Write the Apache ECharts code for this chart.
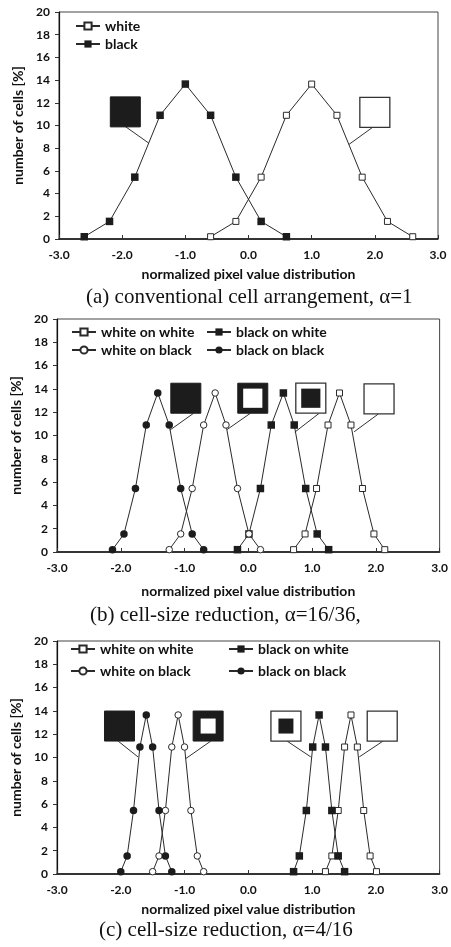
<!DOCTYPE html>
<html>
<head>
<meta charset="utf-8">
<script src="https://cdn.jsdelivr.net/npm/echarts@6/dist/echarts.min.js"></script>
<style>
  html, body { margin: 0; padding: 0; background: #fff; }
  #chart { width: 451px; height: 947px; }
</style>
</head>
<body>
<div id="chart"></div>
<script>
// Share of cells (%) falling in each of the nine histogram bins
const cellPercent = [0.2, 1.55, 5.45, 10.9, 13.65, 10.9, 5.45, 1.55, 0.2];

// (a) conventional cell arrangement, alpha = 1 : bin centres
const aWhiteX = [-0.6, -0.2, 0.2, 0.6, 1.0, 1.4, 1.8, 2.2, 2.6];
const aBlackX = [-2.6, -2.2, -1.8, -1.4, -1.0, -0.6, -0.2, 0.2, 0.6];

// (b) cell-size reduction, alpha = 16/36 : bin centres
const bWhiteOnWhiteX = [0.71, 0.89, 1.07, 1.25, 1.43, 1.61, 1.79, 1.97, 2.14];
const bBlackOnWhiteX = [-0.17, 0.01, 0.19, 0.36, 0.55, 0.72, 0.90, 1.08, 1.26];
const bWhiteOnBlackX = [-1.24, -1.06, -0.88, -0.70, -0.52, -0.35, -0.17, 0.01, 0.19];
const bBlackOnBlackX = [-2.13, -1.95, -1.77, -1.60, -1.42, -1.24, -1.06, -0.88, -0.70];

// (c) cell-size reduction, alpha = 4/16 : bin centres
const cWhiteOnWhiteX = [1.21, 1.31, 1.41, 1.51, 1.61, 1.71, 1.81, 1.91, 2.01];
const cBlackOnWhiteX = [0.71, 0.80, 0.91, 1.01, 1.11, 1.21, 1.31, 1.41, 1.51];
const cWhiteOnBlackX = [-1.5, -1.4, -1.3, -1.2, -1.1, -1.0, -0.9, -0.8, -0.7];
const cBlackOnBlackX = [-2.0, -1.9, -1.8, -1.7, -1.6, -1.5, -1.4, -1.3, -1.2];

const xTicks = [-3, -2, -1, 0, 1, 2, 3];
const yTicks = [0, 2, 4, 6, 8, 10, 12, 14, 16, 18, 20];

const captions = [
  '(a) conventional cell arrangement, \u03b1=1',
  '(b) cell-size reduction, \u03b1=16/36,',
  '(c) cell-size reduction, \u03b1=4/16'
];

const INK = '#1c1c1c';
const LINE = '#2a2a2a';
const SANS = 'Lato, "Open Sans", sans-serif';
const SERIF = '"Liberation Serif", "DejaVu Serif", serif';

const grids = [
  { left: 59, top: 12, width: 379, height: 227 },
  { left: 57, top: 319, width: 386, height: 233 },
  { left: 57, top: 641, width: 386, height: 233 }
];
const xNameGaps = [28, 32, 28];
const yNameGaps = [29, 32, 32];

function zip(xs) { return xs.map((x, i) => [x, cellPercent[i]]); }

// marker looks: open/filled square, open/filled circle
const looks = {
  openSquare:   { symbol: 'rect',   size: 6, fill: '#fff', border: 1 },
  filledSquare: { symbol: 'rect',   size: 7.5, fill: INK,  border: 0 },
  openCircle:   { symbol: 'circle', size: 6.5, fill: '#fff', border: 1 },
  filledCircle: { symbol: 'circle', size: 7.5, fill: INK,  border: 0 }
};

function lineSeries(name, g, xs, look) {
  const l = looks[look];
  return {
    name, type: 'line', xAxisIndex: g, yAxisIndex: g,
    data: zip(xs),
    symbol: l.symbol, symbolSize: l.size, showSymbol: true,
    lineStyle: { color: LINE, width: 1 },
    itemStyle: { color: l.fill, borderColor: LINE, borderWidth: l.border, opacity: 1 },
    emphasis: { disabled: true },
    z: 3, animation: false
  };
}

// Cell pictograms with a leader line pointing at their curve
// kind: black cell, white cell, white-on-black, black-on-white
function insetSeries(g, items, innerRatio) {
  return {
    type: 'custom', xAxisIndex: g, yAxisIndex: g, silent: true, z: 2,
    animation: false,
    data: items.map(it => [it.box[0], it.box[1], it.from[0], it.from[1], it.to[0], it.to[1]]),
    encode: { x: [0, 2, 4], y: [1, 3, 5] },
    renderItem(params, api) {
      const it = items[params.dataIndex];
      const c = api.coord([api.value(0), api.value(1)]);
      const p1 = api.coord([api.value(2), api.value(3)]);
      const p2 = api.coord([api.value(4), api.value(5)]);
      const s = 30;
      const x0 = c[0] - s / 2, y0 = c[1] - s / 2;
      const inner = s * innerRatio;
      const ix = c[0] - inner / 2, iy = c[1] - inner / 2;
      const children = [{
        type: 'line',
        shape: { x1: p1[0], y1: p1[1], x2: p2[0], y2: p2[1] },
        style: { stroke: '#333', lineWidth: 1 }
      }];
      if (it.kind === 'black') {
        children.push({ type: 'rect', shape: { x: x0, y: y0, width: s, height: s },
          style: { fill: INK, stroke: INK, lineWidth: 1 } });
      } else if (it.kind === 'white') {
        children.push({ type: 'rect', shape: { x: x0, y: y0, width: s, height: s },
          style: { fill: '#fff', stroke: '#333', lineWidth: 1.3 } });
      } else if (it.kind === 'whiteOnBlack') {
        children.push({ type: 'rect', shape: { x: x0, y: y0, width: s, height: s },
          style: { fill: INK, stroke: INK, lineWidth: 1 } });
        children.push({ type: 'rect', shape: { x: ix, y: iy, width: inner, height: inner },
          style: { fill: '#fff' } });
      } else {
        children.push({ type: 'rect', shape: { x: x0, y: y0, width: s, height: s },
          style: { fill: '#fff', stroke: '#333', lineWidth: 1.3 } });
        children.push({ type: 'rect', shape: { x: ix, y: iy, width: inner, height: inner },
          style: { fill: INK } });
      }
      return { type: 'group', children };
    }
  };
}

const insetsA = [
  { kind: 'black', box: [-1.95, 11.2], from: [-1.96, 9.95], to: [-1.58, 8.45] },
  { kind: 'white', box: [2.0, 11.15], from: [1.98, 9.9], to: [1.59, 8.33] }
];
const insetsB = [
  { kind: 'black',        box: [-0.98, 13.2], from: [-0.86, 11.9], to: [-1.23, 10.46] },
  { kind: 'whiteOnBlack', box: [0.07, 13.2],  from: [0.03, 11.9],  to: [-0.33, 10.52] },
  { kind: 'blackOnWhite', box: [0.98, 13.2],  from: [1.11, 11.9],  to: [0.73, 10.29] },
  { kind: 'white',        box: [2.05, 13.15], from: [2.04, 11.85], to: [1.66, 10.32] }
];
const insetsC = [
  { kind: 'black',        box: [-2.02, 12.7], from: [-2.04, 11.4], to: [-1.73, 10.05] },
  { kind: 'whiteOnBlack', box: [-0.63, 12.7], from: [-0.59, 11.4], to: [-0.98, 9.91] },
  { kind: 'blackOnWhite', box: [0.59, 12.7],  from: [0.61, 11.4],  to: [0.98, 10.05] },
  { kind: 'white',        box: [2.10, 12.7],  from: [2.11, 11.4],  to: [1.74, 10.05] }
];

const xAxes = grids.map((_, i) => ({
  type: 'value', gridIndex: i, min: xTicks[0], max: xTicks[xTicks.length - 1], interval: 1,
  name: 'normalized pixel value distribution', nameLocation: 'middle', nameGap: xNameGaps[i],
  nameTextStyle: { fontFamily: SANS, fontWeight: 'bold', fontSize: 14, color: '#111' },
  axisLine: { show: true, onZero: false, lineStyle: { color: '#111', width: 1.5 } },
  axisTick: { show: true, inside: true, length: 4, lineStyle: { color: '#333' } },
  axisLabel: { fontFamily: SANS, fontWeight: 'bold', fontSize: 12, color: '#111', margin: 10,
    formatter: v => v.toFixed(1) },
  splitLine: { show: false }
}));

const yAxes = grids.map((_, i) => ({
  type: 'value', gridIndex: i, min: yTicks[0], max: yTicks[yTicks.length - 1], interval: 2,
  name: 'number of cells [%]', nameLocation: 'middle', nameGap: yNameGaps[i],
  nameTextStyle: { fontFamily: SANS, fontWeight: 'bold', fontSize: 14, color: '#111' },
  axisLine: { show: true, onZero: false, lineStyle: { color: '#111', width: 1.2 } },
  axisTick: { show: true, inside: false, length: 4, lineStyle: { color: '#333' } },
  axisLabel: { fontFamily: SANS, fontWeight: 'bold', fontSize: 12, color: '#111', margin: 9 },
  splitLine: { show: false }
}));

const legendText = { fontFamily: SANS, fontWeight: 'bold', fontSize: 14, color: '#111' };
function legend(names, left, top, gap) {
  return {
    data: names, left, top, orient: 'vertical', padding: 0,
    itemWidth: 24, itemHeight: 9, itemGap: gap,
    textStyle: legendText, selectedMode: false
  };
}

const option = {
  backgroundColor: '#fff',
  animation: false,
  grid: grids.map(g => Object.assign({ show: true, borderColor: '#444', borderWidth: 1,
    backgroundColor: 'transparent', containLabel: false }, g)),
  xAxis: xAxes,
  yAxis: yAxes,
  legend: [
    legend(['white', 'black'], 75, 19, 4),
    legend(['white on white', 'white on black'], 71, 325, 4),
    legend(['black on white', 'black on black'], 206, 325, 4),
    legend(['white on white', 'white on black'], 70, 642, 8),
    legend(['black on white', 'black on black'], 228, 642, 8)
  ],
  title: captions.map((t, i) => ({
    text: t, left: [86, 90, 99][i], top: [287, 605, 920][i], padding: 0,
    textStyle: { fontFamily: SERIF, fontWeight: 'normal', fontSize: 21, color: '#111' }
  })),
  series: [
    lineSeries('white', 0, aWhiteX, 'openSquare'),
    lineSeries('black', 0, aBlackX, 'filledSquare'),
    insetSeries(0, insetsA, 1),

    lineSeries('white on white', 1, bWhiteOnWhiteX, 'openSquare'),
    lineSeries('black on white', 1, bBlackOnWhiteX, 'filledSquare'),
    lineSeries('white on black', 1, bWhiteOnBlackX, 'openCircle'),
    lineSeries('black on black', 1, bBlackOnBlackX, 'filledCircle'),
    insetSeries(1, insetsB, 0.64),

    lineSeries('white on white', 2, cWhiteOnWhiteX, 'openSquare'),
    lineSeries('black on white', 2, cBlackOnWhiteX, 'filledSquare'),
    lineSeries('white on black', 2, cWhiteOnBlackX, 'openCircle'),
    lineSeries('black on black', 2, cBlackOnBlackX, 'filledCircle'),
    insetSeries(2, insetsC, 0.5)
  ]
};

const chart = echarts.init(document.getElementById('chart'), null, { renderer: 'canvas' });
chart.setOption(option);
</script>
</body>
</html>
